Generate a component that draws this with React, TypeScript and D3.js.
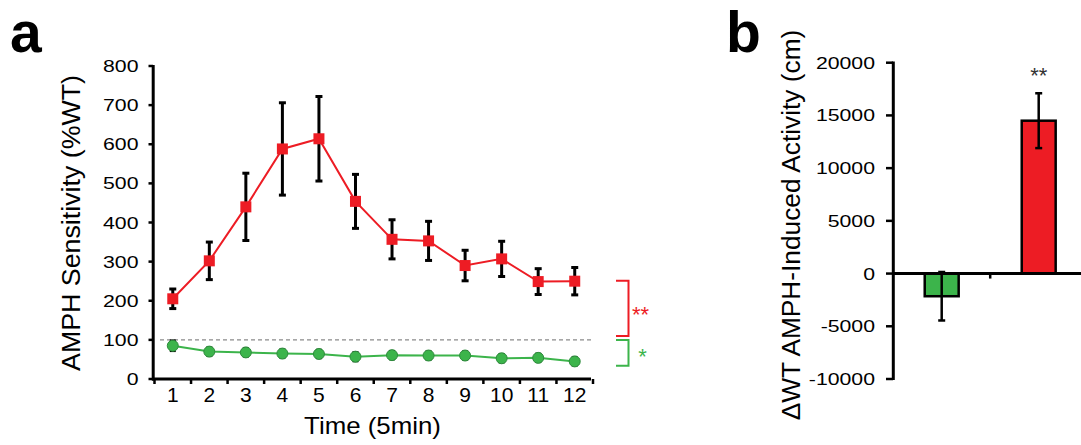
import React from 'react';
import * as d3 from 'd3';

// ---------- data ----------
const timePoints = ['1', '2', '3', '4', '5', '6', '7', '8', '9', '10', '11', '12'];
const redMean = [205, 302, 440, 588, 614, 454, 357, 353, 290, 307, 249, 250];
const redErr = [25, 48, 86, 118, 108, 69, 50, 50, 39, 45, 33, 35];
const greenMean = [85, 70, 68, 65, 64, 57, 61, 60, 60, 53, 54, 45];
const greenErr = [13, 10, 10, 10, 10, 11, 10, 10, 10, 10, 10, 10];
const yTicksA = [0, 100, 200, 300, 400, 500, 600, 700, 800];
const referenceLevel = 100;
const redBracket = [110, 251];
const greenBracket = [34, 100];
const redSig = '**';
const greenSig = '*';

const groupsB = ['green', 'red'];
const barMean = [-2150, 14500];
const barErr = [2300, 2600];
const barSig = ['', '**'];
const yTicksB = [-10000, -5000, 0, 5000, 10000, 15000, 20000];

const RED = '#ed1c24';
const GREEN = '#3cb44b';
const FONT = '"Liberation Sans", Arial, Helvetica, sans-serif';

export default function App() {
  // panel a scales
  const xA = d3.scaleBand<string>().domain(timePoints).range([154.5, 593]).padding(0);
  const yA = d3.scaleLinear().domain([0, 800]).range([379, 66]);
  const cx = (i: number) => (xA(timePoints[i]) as number) + xA.bandwidth() / 2;

  const lineGen = d3
    .line<number>()
    .x((_, i) => cx(i))
    .y((d) => yA(d));

  // panel b scales
  const xB = d3.scaleBand<string>().domain(groupsB).range([893.2, 1087.2]).padding(0);
  const yB = d3.scaleLinear().domain([-10000, 20000]).range([379, 62.7]);
  const barW = xB.bandwidth() * 0.35;

  const errBar = (x: number, yTop: number, yBot: number, cap: number, key: string, sw = 3) => (
    <g key={key} stroke="#000" strokeWidth={sw}>
      <line x1={x} x2={x} y1={yTop} y2={yBot} />
      <line x1={x - cap / 2} x2={x + cap / 2} y1={yTop} y2={yTop} />
      <line x1={x - cap / 2} x2={x + cap / 2} y1={yBot} y2={yBot} />
    </g>
  );

  const xTickPositions = [...timePoints.map((t) => xA(t) as number), xA.range()[1]];

  const sq = 11;

  return (
    <svg
      width={1081}
      height={445}
      style={{ position: 'absolute', left: 0, top: 0, background: '#fff' }}
      fontFamily={FONT}
    >
      {/* ---------- panel a ---------- */}
      <text x={10} y={52} fontSize={57} fontWeight="bold">a</text>

      {/* y label */}
      <text
        transform={`translate(79.5, 223) rotate(-90) scale(1.03,1)`}
        textAnchor="middle"
        fontSize={26}
      >
        AMPH Sensitivity (%WT)
      </text>

      {/* y ticks */}
      {yTicksA.map((t) => (
        <g key={'ya' + t}>
          <line x1={148.5} x2={153} y1={yA(t)} y2={yA(t)} stroke="#000" strokeWidth={2.5} />
          <text
            transform={`translate(138.5, ${yA(t) + 6}) scale(1.25,1)`}
            textAnchor="end"
            fontSize={17}
          >
            {t}
          </text>
        </g>
      ))}

      {/* x ticks */}
      {xTickPositions.map((p, i) => (
        <line key={'xt' + i} x1={p} x2={p} y1={379} y2={384} stroke="#000" strokeWidth={2.5} />
      ))}
      {timePoints.map((t, i) => (
        <text key={'xl' + t} x={cx(i)} y={401.5} textAnchor="middle" fontSize={21}>
          {t}
        </text>
      ))}
      <text
        transform={`translate(372.5, 433.5) scale(1.1,1)`}
        textAnchor="middle"
        fontSize={23.5}
      >
        Time (5min)
      </text>

      {/* axes lines */}
      <line x1={153.2} x2={153.2} y1={65} y2={380.5} stroke="#000" strokeWidth={3} />
      <line x1={152} x2={591} y1={379} y2={379} stroke="#000" strokeWidth={3} />

      {/* reference dashed line */}
      <line
        x1={160}
        x2={593}
        y1={yA(referenceLevel)}
        y2={yA(referenceLevel)}
        stroke="#8a8a8a"
        strokeWidth={1.2}
        strokeDasharray="4,3"
      />

      {/* green series */}
      <path d={lineGen(greenMean) || ''} fill="none" stroke={GREEN} strokeWidth={2} />
      {greenMean.map((v, i) =>
        errBar(cx(i), yA(v + greenErr[i]), yA(v - greenErr[i]), 6, 'ge' + i, 2.5)
      )}
      {greenMean.map((v, i) => (
        <circle key={'gc' + i} cx={cx(i)} cy={yA(v)} r={5.5} fill={GREEN} stroke="#2e8b3c" strokeWidth={1} />
      ))}

      {/* red series */}
      <path d={lineGen(redMean) || ''} fill="none" stroke={RED} strokeWidth={2} />
      {redMean.map((v, i) => errBar(cx(i), yA(v + redErr[i]), yA(v - redErr[i]), 7, 're' + i, 3))}
      {redMean.map((v, i) => (
        <rect key={'rs' + i} x={cx(i) - sq / 2} y={yA(v) - sq / 2} width={sq} height={sq} fill={RED} />
      ))}

      {/* brackets */}
      <path
        d={`M616,${yA(redBracket[1])} H628.5 V${yA(redBracket[0])} H616`}
        fill="none"
        stroke={RED}
        strokeWidth={2}
      />
      <text x={632} y={322} fontSize={22} fill={RED}>{redSig}</text>
      <path
        d={`M616,${yA(greenBracket[1])} H628.5 V${yA(greenBracket[0])} H616`}
        fill="none"
        stroke={GREEN}
        strokeWidth={2}
      />
      <text x={642.5} y={364} fontSize={22} fill={GREEN} textAnchor="middle">{greenSig}</text>

      {/* ---------- panel b ---------- */}
      <text x={726} y={52} fontSize={57} fontWeight="bold">b</text>

      <text
        transform={`translate(799.5, 225) rotate(-90) scale(1.01,1)`}
        textAnchor="middle"
        fontSize={26}
      >
        ΔWT AMPH-Induced Activity (cm)
      </text>

      {yTicksB.map((t) => (
        <g key={'yb' + t}>
          <line x1={886} x2={893} y1={yB(t)} y2={yB(t)} stroke="#000" strokeWidth={2.5} />
          <text
            transform={`translate(875, ${yB(t) + 6}) scale(1.25,1)`}
            textAnchor="end"
            fontSize={17}
          >
            {t}
          </text>
        </g>
      ))}

      {/* bars */}
      {groupsB.map((g, i) => {
        const c = (xB(g) as number) + xB.bandwidth() / 2;
        const y0 = yB(0);
        const y1 = yB(barMean[i]);
        return (
          <g key={'bar' + g}>
            <rect
              x={c - barW / 2}
              y={Math.min(y0, y1)}
              width={barW}
              height={Math.abs(y1 - y0)}
              fill={g === 'red' ? RED : GREEN}
              stroke="#000"
              strokeWidth={2.5}
            />
            {errBar(c, yB(barMean[i] + barErr[i]), yB(barMean[i] - barErr[i]), 7, 'be' + i, 2.5)}
            {barSig[i] && (
              <text x={c} y={83} textAnchor="middle" fontSize={22} fill="#333">
                {barSig[i]}
              </text>
            )}
          </g>
        );
      })}

      {/* axes b */}
      <line x1={893.3} x2={893.3} y1={61.5} y2={380} stroke="#000" strokeWidth={3} />
      <line x1={892} x2={1081} y1={yB(0)} y2={yB(0)} stroke="#000" strokeWidth={3} />
      {groupsB.slice(1).map((g) => (
        <line
          key={'bt' + g}
          x1={xB(g) as number}
          x2={xB(g) as number}
          y1={yB(0)}
          y2={yB(0) + 5}
          stroke="#000"
          strokeWidth={2.5}
        />
      ))}
    </svg>
  );
}
